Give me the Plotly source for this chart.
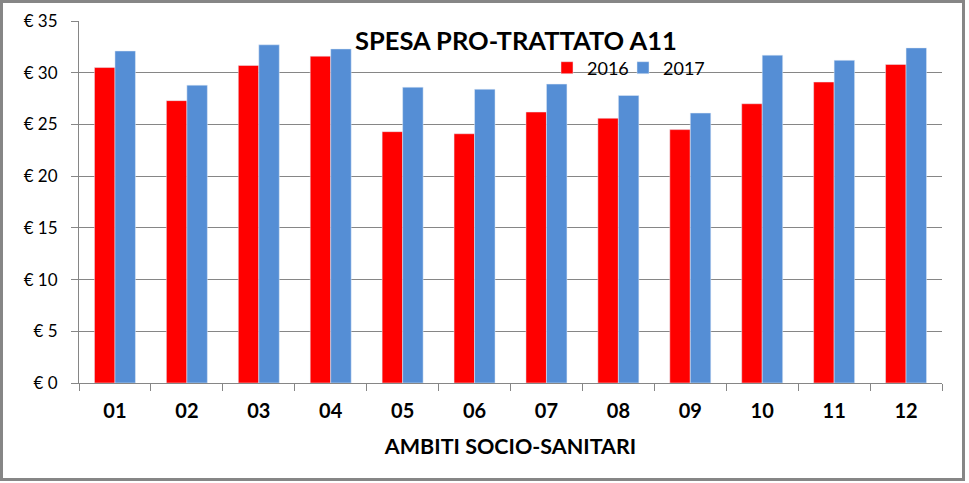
import plotly.graph_objects as go

# ambiti socio-sanitari and spending per treated patient (EUR)
ambiti = ["01", "02", "03", "04", "05", "06", "07", "08", "09", "10", "11", "12"]
spesa_2016 = [30.5, 27.3, 30.7, 31.6, 24.3, 24.1, 26.2, 25.6, 24.5, 27.0, 29.1, 30.8]
spesa_2017 = [32.1, 28.8, 32.7, 32.3, 28.6, 28.4, 28.9, 27.8, 26.1, 31.7, 31.2, 32.4]
y_ticks = [0, 5, 10, 15, 20, 25, 30, 35]
y_tick_labels = ["€ " + str(v) for v in y_ticks]

W, H = 969, 483
L, R, T, B = 79, 27, 21, 100
PW, PH = W - L - R, H - T - B
FONT = "Lato"
GRID = "#868686"


def px_x(px):
    return (px - L) / PW


def px_y(py):
    return (H - B - py) / PH


def legend_box(left_px):
    # one legend per series so the two entries sit like in the original
    return dict(
        orientation="h", x=px_x(left_px), y=px_y(68), xanchor="left", yanchor="middle",
        bgcolor="rgba(0,0,0,0)", font=dict(size=18, family=FONT),
        itemwidth=30,
    )


fig = go.Figure()
fig.add_trace(go.Bar(x=ambiti, y=spesa_2016, name="2016", marker_color="#FF0000",
                     legend="legend"))
fig.add_trace(go.Bar(x=ambiti, y=spesa_2017, name="2017", marker_color="#558ED5",
                     legend="legend2"))

fig.update_layout(
    width=W, height=H,
    margin=dict(l=L, r=R, t=T, b=B, autoexpand=False),
    paper_bgcolor="white", plot_bgcolor="white",
    barmode="group", bargap=0.43, bargroupgap=0,
    font=dict(family=FONT, color="black"),
    showlegend=True,
    legend=legend_box(547),
    legend2=legend_box(623),
    shapes=[
        # white box behind the title, hides the top gridline
        dict(type="rect", xref="paper", yref="paper", layer="above",
             x0=px_x(353), x1=px_x(683), y0=px_y(10), y1=px_y(56),
             fillcolor="white", line=dict(width=0)),
        # outer chart frame
        dict(type="rect", xref="paper", yref="paper", layer="above",
             x0=px_x(1.5), x1=px_x(963.5), y0=px_y(1.5), y1=px_y(479.5),
             line=dict(color=GRID, width=3), fillcolor="rgba(0,0,0,0)"),
    ],
    annotations=[
        dict(text="<b>SPESA PRO-TRATTATO A11</b>", xref="paper", yref="paper",
             x=px_x(516), y=px_y(40), xanchor="center", yanchor="middle",
             showarrow=False, font=dict(size=25.5, family=FONT, color="black")),
    ],
)

fig.update_xaxes(
    showline=True, linecolor=GRID, linewidth=1,
    ticks="outside", ticklen=7, tickcolor=GRID, tickson="boundaries",
    tickfont=dict(size=20, family=FONT, weight="bold"),
    ticklabelstandoff=10,
    title=dict(text="<b>AMBITI SOCIO-SANITARI</b>", font=dict(size=21.5, family=FONT), standoff=17),
    showgrid=False,
)
fig.update_yaxes(
    range=[0, 35], tickmode="array", tickvals=y_ticks, ticktext=y_tick_labels,
    showline=True, linecolor=GRID, linewidth=1,
    ticks="outside", ticklen=7, tickcolor=GRID,
    showgrid=True, gridcolor=GRID, gridwidth=1,
    tickfont=dict(size=17, family=FONT),
    ticklabelstandoff=10,
    zeroline=False,
)

fig.write_html("out.html", config={"displayModeBar": False},
               post_script="document.body.style.margin='0';")
